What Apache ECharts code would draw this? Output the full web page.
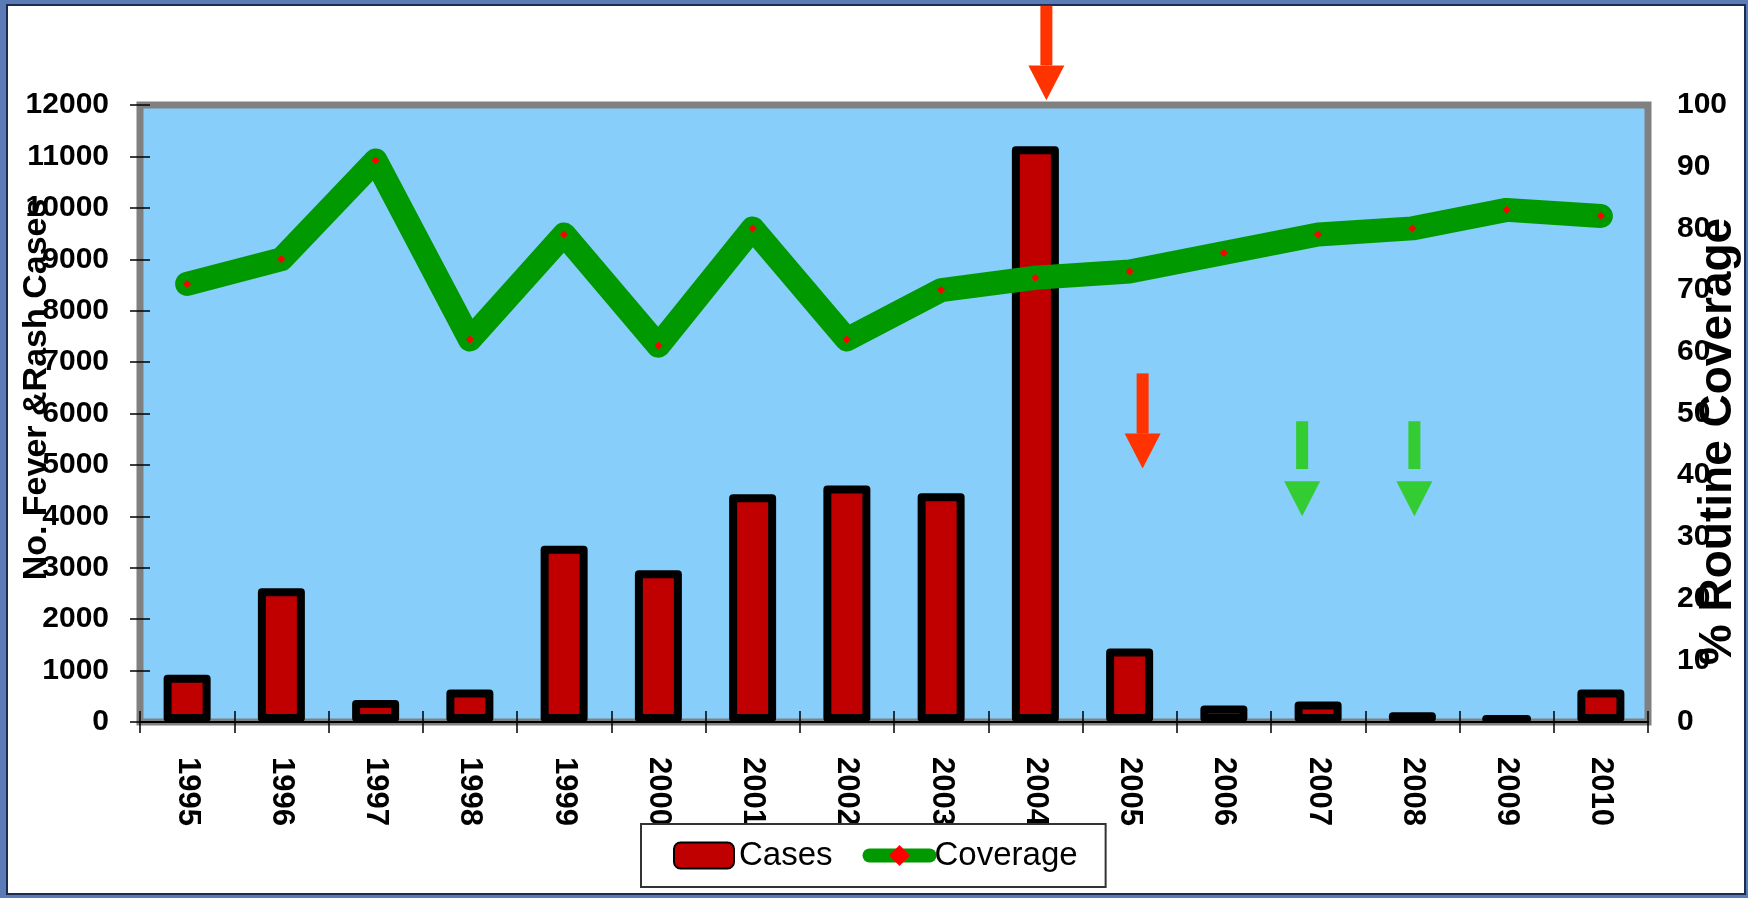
<!DOCTYPE html>
<html>
<head>
<meta charset="utf-8">
<script src="https://cdn.jsdelivr.net/npm/echarts@6/dist/echarts.min.js"></script>
<style>
  html, body { margin: 0; padding: 0; background: #5a7bb5; }
  #main { width: 1748px; height: 898px; }
</style>
</head>
<body>
<div id="main"></div>
<script>
const years = ['1995','1996','1997','1998','1999','2000','2001','2002','2003','2004','2005','2006','2007','2008','2009','2010'];
const cases = [920, 2600, 430, 630, 3430, 2950, 4430, 4600, 4450, 11200, 1430, 320, 400, 190, 120, 630];
const coverage = [71, 75, 91, 62, 79, 61, 80, 62, 70, 72, 73, 76, 79, 80, 83, 82];
const casesAxis = { min: 0, max: 12000, interval: 1000 };
const coverageAxis = { min: 0, max: 100, interval: 10 };
const leftTitle = 'No. Fever &Rash Cases';
const rightTitle = '% Routine Coverage';
// annotation arrows: year, shaft top / shaft end / head top / tip in case-axis units
const arrowYears = ['2004', '2005', '2007', '2008'];
const arrowLevels = [
  [13930, 12770, 12770, 12090],
  [6780, 5610, 5610, 4930],
  [5850, 4920, 4680, 4000],
  [5850, 4920, 4680, 4000]
];
const arrowColors = ['#FF3300', '#FF3300', '#33CC33', '#33CC33'];
const arrowShift = [11, 13, -16, 2];

const FONT = 'Liberation Sans, Arial, sans-serif';
const W = 'bold';
const chart = echarts.init(document.getElementById('main'), null, { renderer: 'canvas' });

const option = {
  backgroundColor: '#5a7bb5',
  animation: false,
  textStyle: { fontFamily: FONT, color: '#000' },
  graphic: [{
    id: 'frame', type: 'rect', z: -100, silent: true,
    shape: { x: 7, y: 5, width: 1738, height: 889 },
    style: { fill: '#ffffff', stroke: '#1c2c50', lineWidth: 2 }
  }],
  grid: {
    left: 140, right: 100, top: 105, bottom: 176,
    outerBoundsMode: 'none', containLabel: false,
    show: true, backgroundColor: '#87CEFA', borderColor: '#808080', borderWidth: 7
  },
  legend: {
    left: 641, top: 824,
    itemWidth: 60, itemHeight: 26, itemGap: 30,
    padding: [15, 28, 15, 32],
    borderColor: '#333', borderWidth: 2, backgroundColor: '#fff',
    textStyle: { fontSize: 33, color: '#000', fontFamily: FONT },
    lineStyle: { width: 14, cap: 'round' },
    data: ['Cases', 'Coverage']
  },
  xAxis: [{
    type: 'category', data: years, position: 'bottom', boundaryGap: true,
    axisLine: { show: true, lineStyle: { color: '#000', width: 2 } },
    axisTick: { show: true, inside: false, length: 11, lineStyle: { color: '#000', width: 1.5 } },
    axisLabel: { rotate: -90, margin: 35, fontSize: 31, fontWeight: W, color: '#000', fontFamily: FONT }
  }, {
    type: 'category', data: years, position: 'bottom', boundaryGap: true,
    axisLine: { show: false },
    axisTick: { show: true, inside: true, length: 11, lineStyle: { color: '#000', width: 1.5 } },
    axisLabel: { show: false }
  }],
  yAxis: [{
    type: 'value', position: 'left', min: casesAxis.min, max: casesAxis.max, interval: casesAxis.interval,
    axisLine: { show: false },
    axisTick: { show: true, inside: false, length: 10, lineStyle: { color: '#000', width: 1.5 } },
    axisLabel: { margin: 31, fontSize: 30, fontWeight: W, color: '#000', fontFamily: FONT, formatter: v => String(v) },
    splitLine: { show: false },
    name: leftTitle, nameLocation: 'middle', nameRotate: 90, nameGap: 86, nameMoveOverlap: false,
    nameTextStyle: { fontSize: 34, fontWeight: W, color: '#000', fontFamily: FONT, padding: [0, 0, 0, 48] }
  }, {
    type: 'value', position: 'right', min: coverageAxis.min, max: coverageAxis.max, interval: coverageAxis.interval,
    axisLine: { show: false }, axisTick: { show: false },
    axisLabel: { margin: 29, fontSize: 30, fontWeight: W, color: '#000', fontFamily: FONT, formatter: v => String(v) },
    splitLine: { show: false },
    name: rightTitle, nameLocation: 'middle', nameRotate: 90, nameGap: 47, nameMoveOverlap: false,
    nameTextStyle: { fontSize: 46, fontWeight: W, color: '#000', fontFamily: FONT, padding: [0, 56, 0, 0] }
  }, {
    type: 'value', position: 'left', min: casesAxis.min, max: casesAxis.max, interval: casesAxis.interval,
    axisLine: { show: false },
    axisTick: { show: true, inside: true, length: 10, lineStyle: { color: '#000', width: 1.5 } },
    axisLabel: { show: false }, splitLine: { show: false }
  }],
  series: [{
    name: 'Cases', type: 'bar', xAxisIndex: 0, yAxisIndex: 0, data: cases,
    barWidth: 47,
    itemStyle: { color: '#C00000', borderColor: '#000', borderWidth: 8, borderJoin: 'round' },
    z: 2
  }, {
    name: 'Coverage', type: 'line', xAxisIndex: 0, yAxisIndex: 1, data: coverage,
    symbol: 'diamond', symbolSize: 8, showAllSymbol: true,
    itemStyle: { color: '#FF0000' },
    lineStyle: { color: '#009900', width: 24, cap: 'round', join: 'round' },
    z: 3
  }]
};
chart.setOption(option);

const arrowGraphics = [];
arrowYears.forEach((yr, i) => {
  const cx = chart.convertToPixel({ xAxisIndex: 0 }, yr) + arrowShift[i];
  const lv = arrowLevels[i].map(v => chart.convertToPixel({ yAxisIndex: 0 }, v));
  const col = arrowColors[i];
  arrowGraphics.push({
    type: 'rect', z: 50, silent: true,
    shape: { x: cx - 6, y: lv[0], width: 12, height: lv[1] - lv[0] },
    style: { fill: col }
  });
  arrowGraphics.push({
    type: 'polygon', z: 50, silent: true,
    shape: { points: [[cx - 18, lv[2]], [cx + 18, lv[2]], [cx, lv[3]]] },
    style: { fill: col }
  });
});
chart.setOption({ graphic: option.graphic.concat(arrowGraphics) });
</script>
</body>
</html>
